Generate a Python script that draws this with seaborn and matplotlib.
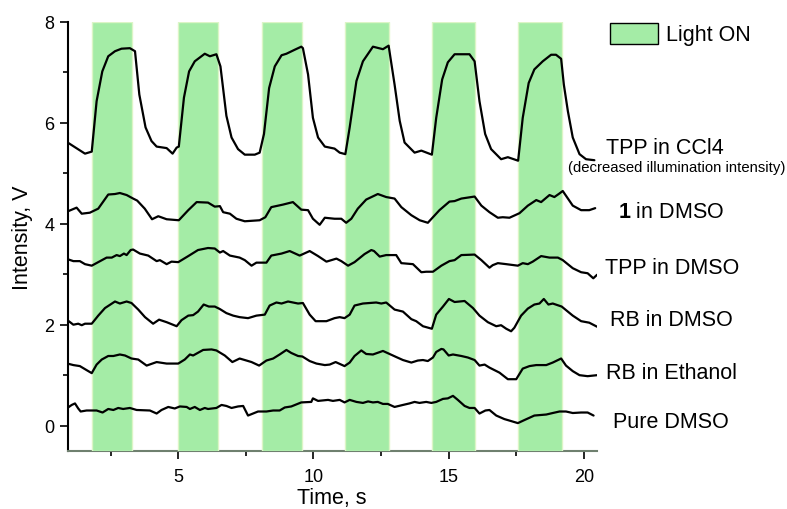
import pandas as pd
import seaborn as sns
import matplotlib.pyplot as plt
from matplotlib.patches import Patch
from matplotlib.ticker import MultipleLocator

# light ON intervals, s
light_on = [(1.80, 3.30), (5.00, 6.47), (8.08, 9.58), (11.18, 12.79), (14.38, 15.98), (17.57, 19.20)]

# (time, intensity)
tpp_ccl4 = [(0.91, 5.61), (1.55, 5.39), (1.80, 5.43), (1.98, 6.43), (2.19, 7.02), (2.41, 7.32), (2.66, 7.42),
            (2.90, 7.47), (3.21, 7.48), (3.40, 7.42), (3.56, 6.56), (3.79, 5.91), (4.01, 5.64), (4.20, 5.53),
            (4.57, 5.50), (4.79, 5.39), (4.94, 5.51), (5.02, 5.53), (5.21, 6.50), (5.40, 7.02), (5.61, 7.22),
            (5.98, 7.37), (6.17, 7.32), (6.41, 7.36), (6.56, 7.12), (6.78, 6.14), (6.97, 5.71), (7.21, 5.48),
            (7.46, 5.37), (7.83, 5.37), (8.01, 5.41), (8.17, 5.78), (8.36, 6.69), (8.57, 7.12), (8.82, 7.34),
            (9.00, 7.37), (9.31, 7.45), (9.55, 7.51), (9.61, 7.48), (9.80, 6.96), (9.98, 6.10), (10.17, 5.71),
            (10.42, 5.53), (10.78, 5.49), (10.97, 5.41), (11.18, 5.38), (11.34, 5.91), (11.59, 6.83), (11.83, 7.22),
            (12.20, 7.51), (12.57, 7.46), (12.78, 7.53), (13.00, 6.76), (13.19, 6.04), (13.37, 5.61), (13.74, 5.41),
            (13.99, 5.45), (14.38, 5.37), (14.54, 6.10), (14.76, 6.86), (14.97, 7.20), (15.22, 7.36), (15.77, 7.36),
            (15.96, 7.22), (16.14, 6.43), (16.35, 5.78), (16.57, 5.48), (16.94, 5.28), (17.19, 5.32), (17.57, 5.25),
            (17.74, 6.10), (17.96, 6.79), (18.17, 7.06), (18.48, 7.22), (18.79, 7.35), (18.97, 7.35), (19.16, 7.27),
            (19.26, 6.76), (19.41, 6.23), (19.59, 5.71), (19.84, 5.38), (20.08, 5.28), (20.39, 5.26)]

c1_dmso = [(0.93, 4.25), (1.24, 4.32), (1.43, 4.20), (1.73, 4.22), (2.04, 4.30), (2.41, 4.58), (2.66, 4.59),
           (2.84, 4.61), (3.09, 4.57), (3.33, 4.50), (3.48, 4.46), (3.76, 4.30), (4.03, 4.09), (4.26, 4.15),
           (4.57, 4.09), (5.02, 4.07), (5.37, 4.27), (5.68, 4.43), (6.10, 4.42), (6.35, 4.34), (6.54, 4.35),
           (6.66, 4.23), (6.91, 4.20), (7.15, 4.10), (7.46, 4.05), (8.01, 4.07), (8.22, 4.13), (8.44, 4.33),
           (8.87, 4.38), (9.24, 4.43), (9.55, 4.28), (9.80, 4.27), (9.98, 4.10), (10.23, 3.98), (10.42, 4.12),
           (10.78, 4.10), (11.03, 4.10), (11.21, 4.02), (11.40, 4.10), (11.64, 4.30), (11.95, 4.48), (12.38, 4.59),
           (12.69, 4.53), (13.00, 4.50), (13.25, 4.33), (13.62, 4.17), (13.93, 4.07), (14.23, 4.02), (14.66, 4.27),
           (15.03, 4.44), (15.22, 4.45), (15.47, 4.50), (15.96, 4.54), (16.21, 4.36), (16.51, 4.23), (16.82, 4.12),
           (17.00, 4.13), (17.25, 4.12), (17.62, 4.21), (17.93, 4.36), (18.24, 4.47), (18.42, 4.43), (18.73, 4.57),
           (18.91, 4.53), (19.07, 4.59), (19.22, 4.65), (19.59, 4.36), (19.90, 4.27), (20.20, 4.27), (20.42, 4.31)]

tpp_dmso = [(0.90, 3.30), (1.12, 3.26), (1.36, 3.26), (1.55, 3.20), (1.80, 3.17), (2.04, 3.24), (2.35, 3.33),
            (2.54, 3.33), (2.72, 3.38), (2.84, 3.36), (2.99, 3.41), (3.09, 3.38), (3.24, 3.48), (3.33, 3.49),
            (3.58, 3.41), (3.89, 3.37), (4.20, 3.26), (4.32, 3.28), (4.57, 3.20), (4.75, 3.25), (5.00, 3.24),
            (5.37, 3.36), (5.73, 3.48), (6.10, 3.52), (6.35, 3.51), (6.54, 3.43), (6.66, 3.46), (6.91, 3.37),
            (7.27, 3.33), (7.46, 3.28), (7.71, 3.17), (7.89, 3.23), (8.26, 3.23), (8.44, 3.37), (8.82, 3.41),
            (9.12, 3.46), (9.49, 3.37), (9.86, 3.46), (10.17, 3.36), (10.48, 3.25), (10.85, 3.31), (11.03, 3.26),
            (11.28, 3.17), (11.52, 3.24), (11.89, 3.40), (12.14, 3.48), (12.24, 3.46), (12.45, 3.35), (12.69, 3.38),
            (13.06, 3.38), (13.25, 3.22), (13.68, 3.20), (13.99, 3.04), (14.17, 3.05), (14.42, 3.05), (14.73, 3.17),
            (15.03, 3.26), (15.22, 3.28), (15.47, 3.38), (15.96, 3.39), (16.21, 3.28), (16.51, 3.13), (16.63, 3.18),
            (16.82, 3.22), (17.13, 3.20), (17.56, 3.17), (17.74, 3.22), (17.93, 3.20), (18.11, 3.25), (18.42, 3.36),
            (18.73, 3.33), (19.04, 3.33), (19.22, 3.28), (19.59, 3.12), (19.90, 3.04), (20.14, 3.02), (20.35, 2.92),
            (20.49, 2.99)]

rb_dmso = [(0.90, 2.09), (1.12, 2.00), (1.30, 2.02), (1.43, 1.99), (1.55, 2.02), (1.80, 2.02), (2.04, 2.18),
           (2.29, 2.33), (2.66, 2.46), (2.84, 2.42), (3.09, 2.46), (3.27, 2.43), (3.52, 2.30), (3.77, 2.15),
           (4.07, 2.02), (4.29, 2.10), (4.57, 2.05), (4.94, 1.97), (5.12, 2.09), (5.37, 2.18), (5.55, 2.19),
           (5.73, 2.26), (5.94, 2.40), (6.13, 2.36), (6.35, 2.36), (6.54, 2.31), (6.78, 2.23), (7.03, 2.18),
           (7.27, 2.15), (7.58, 2.13), (7.89, 2.18), (8.20, 2.20), (8.38, 2.38), (8.63, 2.44), (8.82, 2.42),
           (9.06, 2.46), (9.43, 2.42), (9.61, 2.43), (9.86, 2.20), (10.08, 2.07), (10.48, 2.07), (10.78, 2.13),
           (10.97, 2.15), (11.15, 2.13), (11.34, 2.20), (11.52, 2.38), (11.83, 2.42), (12.32, 2.44), (12.51, 2.42),
           (12.69, 2.44), (13.00, 2.30), (13.31, 2.26), (13.62, 2.11), (13.80, 2.07), (14.05, 1.97), (14.38, 1.92),
           (14.54, 2.20), (14.79, 2.36), (15.01, 2.51), (15.22, 2.45), (15.59, 2.47), (15.90, 2.33), (16.14, 2.18),
           (16.45, 2.05), (16.76, 1.97), (16.94, 1.99), (17.13, 1.92), (17.31, 1.87), (17.43, 1.94), (17.68, 2.18),
           (17.93, 2.32), (18.17, 2.40), (18.36, 2.42), (18.52, 2.51), (18.69, 2.40), (18.85, 2.42), (19.18, 2.36),
           (19.59, 2.18), (19.90, 2.07), (20.20, 2.04), (20.49, 1.96)]

rb_ethanol = [(0.90, 1.23), (1.12, 1.20), (1.36, 1.18), (1.61, 1.10), (1.80, 1.04), (1.98, 1.21), (2.17, 1.31),
              (2.41, 1.38), (2.60, 1.38), (2.84, 1.41), (3.03, 1.39), (3.27, 1.33), (3.52, 1.31), (3.83, 1.19),
              (4.20, 1.26), (4.57, 1.23), (5.00, 1.23), (5.24, 1.31), (5.43, 1.41), (5.55, 1.39), (5.92, 1.50),
              (6.23, 1.51), (6.41, 1.49), (6.72, 1.39), (7.00, 1.26), (7.27, 1.33), (7.46, 1.30), (7.71, 1.26),
              (7.99, 1.19), (8.26, 1.29), (8.51, 1.33), (8.75, 1.41), (9.00, 1.50), (9.18, 1.44), (9.43, 1.38),
              (9.59, 1.37), (9.86, 1.28), (10.11, 1.23), (10.42, 1.20), (10.60, 1.21), (10.82, 1.26), (11.15, 1.18),
              (11.34, 1.25), (11.52, 1.38), (11.77, 1.49), (11.95, 1.42), (12.20, 1.41), (12.57, 1.48), (13.06, 1.36),
              (13.31, 1.30), (13.62, 1.25), (13.86, 1.29), (14.05, 1.30), (14.23, 1.28), (14.42, 1.35), (14.54, 1.46),
              (14.73, 1.52), (14.81, 1.51), (15.00, 1.39), (15.16, 1.41), (15.47, 1.38), (15.71, 1.35), (15.96, 1.30),
              (16.14, 1.19), (16.33, 1.21), (16.51, 1.15), (16.88, 1.05), (17.19, 0.92), (17.50, 0.92), (17.74, 1.13),
              (17.99, 1.18), (18.24, 1.20), (18.61, 1.20), (18.85, 1.25), (19.16, 1.33), (19.34, 1.19), (19.59, 1.08),
              (19.84, 1.00), (20.14, 0.98), (20.49, 1.00)]

pure_dmso = [(0.90, 0.35), (1.06, 0.41), (1.18, 0.44), (1.30, 0.34), (1.39, 0.28), (1.61, 0.30), (1.98, 0.30),
             (2.20, 0.26), (2.41, 0.33), (2.60, 0.31), (2.78, 0.35), (2.96, 0.33), (3.21, 0.35), (3.46, 0.31),
             (3.95, 0.30), (4.20, 0.24), (4.38, 0.31), (4.63, 0.37), (4.87, 0.34), (5.06, 0.38), (5.31, 0.37),
             (5.43, 0.33), (5.61, 0.37), (5.80, 0.31), (5.98, 0.35), (6.10, 0.33), (6.41, 0.35), (6.60, 0.41),
             (6.78, 0.39), (6.97, 0.35), (7.21, 0.38), (7.40, 0.39), (7.58, 0.20), (7.95, 0.28), (8.26, 0.28),
             (8.51, 0.30), (8.75, 0.30), (8.94, 0.36), (9.18, 0.38), (9.55, 0.46), (9.92, 0.47), (9.98, 0.54),
             (10.17, 0.49), (10.54, 0.51), (10.72, 0.49), (10.97, 0.51), (11.15, 0.46), (11.34, 0.51), (11.59, 0.47),
             (11.83, 0.45), (12.02, 0.48), (12.20, 0.46), (12.38, 0.47), (12.57, 0.43), (12.75, 0.43), (13.00, 0.37),
             (13.31, 0.41), (13.55, 0.44), (13.74, 0.47), (13.92, 0.45), (14.17, 0.47), (14.36, 0.45), (14.54, 0.47),
             (14.79, 0.53), (14.97, 0.54), (15.16, 0.59), (15.34, 0.51), (15.59, 0.39), (15.77, 0.35), (15.96, 0.35),
             (16.14, 0.24), (16.36, 0.30), (16.51, 0.31), (16.76, 0.20), (17.06, 0.13), (17.25, 0.10), (17.56, 0.05),
             (17.80, 0.11), (18.17, 0.20), (18.61, 0.22), (18.85, 0.25), (19.10, 0.28), (19.34, 0.28), (19.59, 0.25),
             (19.90, 0.26), (20.14, 0.26), (20.36, 0.20)]

series_names = ["TPP in CCl4", "1 in DMSO", "TPP in DMSO", "RB in DMSO", "RB in Ethanol", "Pure DMSO"]
series_data = [tpp_ccl4, c1_dmso, tpp_dmso, rb_dmso, rb_ethanol, pure_dmso]

frames = []
for name, pts in zip(series_names, series_data):
    d = pd.DataFrame(pts, columns=["time", "intensity"])
    d["series"] = name
    frames.append(d)
df = pd.concat(frames, ignore_index=True)

#%%
sns.set_style("ticks")
plt.rcParams['font.family'] = ['Liberation Sans', 'DejaVu Sans']
plt.rcParams['mathtext.fontset'] = 'custom'
plt.rcParams['mathtext.rm'] = 'Liberation Sans'
plt.rcParams['mathtext.bf'] = 'Liberation Sans:bold'
plt.rcParams['text.color'] = 'black'
plt.rcParams['axes.labelcolor'] = 'black'
plt.rcParams['xtick.color'] = 'black'
plt.rcParams['ytick.color'] = 'black'

W, H = 787, 510
fig = plt.figure(figsize=(W / 100, H / 100), dpi=100)
ax = fig.add_axes([0.086, 0.114, 0.672, 0.841])

band_color = '#a4eca6'
for start, end in light_on:
    ax.axvspan(start, end, facecolor=band_color, edgecolor='#dcf5c6', lw=1, zorder=2.6)

sns.lineplot(data=df, x="time", y="intensity", units="series", estimator=None,
             color="black", lw=1.6, ax=ax, zorder=3)

ax.set_xlim(0.91, 20.47)
ax.set_ylim(-0.5, 8)
ax.xaxis.set_major_locator(MultipleLocator(5))
ax.xaxis.set_minor_locator(MultipleLocator(2.5))
ax.yaxis.set_major_locator(MultipleLocator(2))
ax.yaxis.set_minor_locator(MultipleLocator(1))
ax.tick_params(which='major', length=6, width=1.2, direction='out', labelsize=13, labelcolor='black')
ax.tick_params(which='minor', length=3.5, width=1.2, direction='out')
ax.tick_params(axis='x', which='major', pad=6)

sns.despine(ax=ax)
ax.spines['left'].set_linewidth(1.5)
ax.spines['left'].set_color('black')
ax.spines['bottom'].set_linewidth(1.5)
ax.spines['bottom'].set_color('#6f806f')

ax.set_xlabel("Time, s", fontsize=15.5, labelpad=2)
ax.set_ylabel("Intensity, V", fontsize=15.5, labelpad=8)

fig.legend(handles=[Patch(facecolor=band_color, edgecolor='black', lw=1, label='Light ON')],
           loc='center left', bbox_to_anchor=(610 / W, 1 - 35 / H), frameon=False, fontsize=15.5,
           handlelength=2.25, handleheight=1.12, handletextpad=0.35, borderpad=0, borderaxespad=0)

# curve names on the right
fig.text(606 / W, 1 - 149 / H, "TPP in CCl4", fontsize=15.5, va='center')
fig.text(785 / W, 1 - 168 / H, "(decreased illumination intensity)", fontsize=10.7, va='center', ha='right')
fig.text(618 / W, 1 - 212 / H, r"$\mathbf{1}$ in DMSO", fontsize=15.5, va='center')
fig.text(605 / W, 1 - 269 / H, "TPP in DMSO", fontsize=15.5, va='center')
fig.text(610 / W, 1 - 321 / H, "RB in DMSO", fontsize=15.5, va='center')
fig.text(606 / W, 1 - 374 / H, "RB in Ethanol", fontsize=15.5, va='center')
fig.text(613 / W, 1 - 423 / H, "Pure DMSO", fontsize=15.5, va='center')

fig.savefig("out.png", dpi=100)
